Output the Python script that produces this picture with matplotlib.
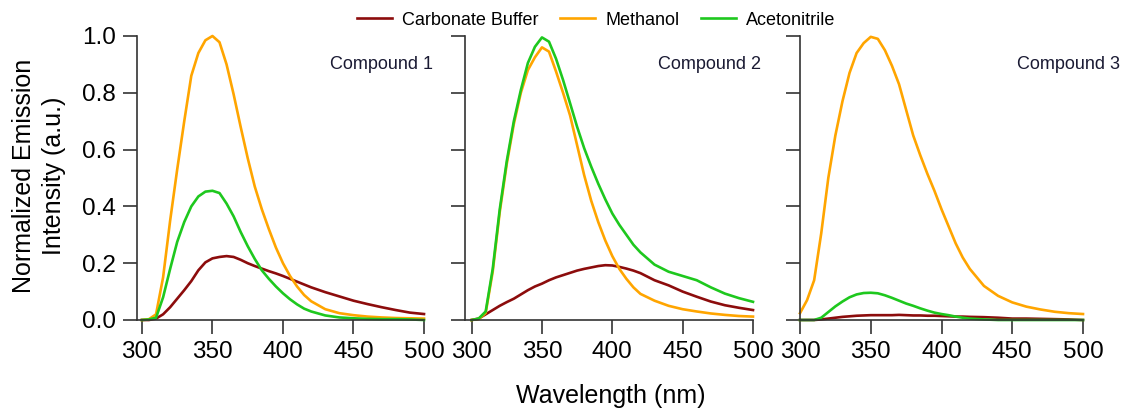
import matplotlib
matplotlib.use("Agg")
import matplotlib.pyplot as plt

plt.rcParams["font.family"] = ["Liberation Sans", "DejaVu Sans"]

wavelength = [300, 305, 310, 315, 320, 325, 330, 335, 340, 345, 350, 355, 360,
              365, 370, 375, 380, 385, 390, 395, 400, 405, 410, 415, 420,
              430, 440, 450, 460, 470, 480, 490, 500]

# Compound 1
c1_carbonate = [0.0, 0.0, 0.005, 0.02, 0.045, 0.075, 0.105, 0.137, 0.175, 0.203, 0.217, 0.222, 0.225,
                0.222, 0.212, 0.2, 0.19, 0.181, 0.172, 0.164, 0.155, 0.145, 0.135, 0.125, 0.115,
                0.098, 0.083, 0.068, 0.056, 0.045, 0.035, 0.026, 0.021]
c1_methanol = [0.0, 0.003, 0.02, 0.15, 0.35, 0.53, 0.70, 0.86, 0.94, 0.985, 1.0, 0.978, 0.9,
               0.795, 0.68, 0.57, 0.47, 0.39, 0.32, 0.255, 0.2, 0.155, 0.118, 0.088, 0.066,
               0.038, 0.024, 0.017, 0.012, 0.009, 0.007, 0.006, 0.005]
c1_acetonitrile = [0.0, 0.002, 0.008, 0.08, 0.18, 0.275, 0.345, 0.4, 0.435, 0.452, 0.455, 0.447, 0.41,
                   0.365, 0.31, 0.26, 0.215, 0.175, 0.145, 0.118, 0.094, 0.073, 0.055, 0.04, 0.03,
                   0.016, 0.009, 0.006, 0.004, 0.003, 0.003, 0.002, 0.0]

# Compound 2
c2_carbonate = [0.0, 0.005, 0.02, 0.035, 0.05, 0.063, 0.075, 0.09, 0.105, 0.118, 0.128, 0.14, 0.15,
                0.158, 0.166, 0.174, 0.18, 0.185, 0.19, 0.193, 0.192, 0.187, 0.181, 0.174, 0.165,
                0.14, 0.122, 0.1, 0.082, 0.065, 0.052, 0.043, 0.035]
c2_methanol = [0.0, 0.003, 0.025, 0.17, 0.38, 0.55, 0.69, 0.80, 0.88, 0.925, 0.96, 0.945, 0.875,
               0.80, 0.72, 0.615, 0.51, 0.42, 0.345, 0.28, 0.225, 0.18, 0.145, 0.115, 0.092,
               0.068, 0.05, 0.038, 0.03, 0.023, 0.018, 0.014, 0.012]
c2_acetonitrile = [0.0, 0.005, 0.03, 0.18, 0.39, 0.56, 0.70, 0.81, 0.905, 0.962, 0.995, 0.98, 0.92,
                   0.845, 0.763, 0.68, 0.605, 0.54, 0.48, 0.425, 0.375, 0.335, 0.30, 0.265, 0.238,
                   0.195, 0.17, 0.155, 0.14, 0.115, 0.093, 0.077, 0.064]

# Compound 3
c3_carbonate = [0.0, 0.0, 0.0, 0.002, 0.005, 0.008, 0.011, 0.013, 0.015, 0.016, 0.017, 0.017, 0.017,
                0.017, 0.018, 0.017, 0.016, 0.016, 0.015, 0.015, 0.014, 0.013, 0.012, 0.012, 0.011,
                0.01, 0.008, 0.005, 0.005, 0.004, 0.003, 0.002, 0.0]
c3_methanol = [0.024, 0.07, 0.14, 0.305, 0.50, 0.65, 0.77, 0.87, 0.94, 0.975, 0.997, 0.99, 0.95,
               0.895, 0.83, 0.74, 0.65, 0.58, 0.515, 0.455, 0.39, 0.33, 0.27, 0.22, 0.18,
               0.12, 0.085, 0.062, 0.047, 0.037, 0.029, 0.024, 0.021]
c3_acetonitrile = [0.0, 0.0, 0.0, 0.008, 0.028, 0.048, 0.065, 0.08, 0.09, 0.095, 0.096, 0.094, 0.087,
                   0.078, 0.068, 0.058, 0.05, 0.041, 0.033, 0.026, 0.021, 0.017, 0.012, 0.008, 0.005,
                   0.002, 0.0, 0.0, 0.0, 0.0, 0.0, 0.0, 0.0]

solvents = ["Carbonate Buffer", "Methanol", "Acetonitrile"]
compounds = ["Compound 1", "Compound 2", "Compound 3"]
panels = [
    (c1_carbonate, c1_methanol, c1_acetonitrile),
    (c2_carbonate, c2_methanol, c2_acetonitrile),
    (c3_carbonate, c3_methanol, c3_acetonitrile),
]
colors = ["#8c0c0c", "#ffa500", "#1ec81e"]

W, H = 1125, 409
fig = plt.figure(figsize=(W / 100, H / 100), dpi=100)

# axes boxes in pixels: (left, right, x-limit start)
boxes = [(137, 424, 296.5), (465, 753, 295.3), (800, 1083, 300.0)]
label_x = [433, 432.5, 453.5]
ax_bottom, ax_top = 320, 36

for i, ((l, r, x0), series) in enumerate(zip(boxes, panels)):
    ax = fig.add_axes([l / W, (H - ax_bottom) / H, (r - l) / W, (ax_bottom - ax_top) / H])
    for ys, c, name in zip(series, colors, solvents):
        ax.plot(wavelength, ys, color=c, lw=1.9, label=name, clip_on=False)
    ax.set_xlim(x0, 500)
    ax.set_ylim(0, 1.0)
    ax.set_xticks([300, 350, 400, 450, 500])
    ax.set_yticks([0.0, 0.2, 0.4, 0.6, 0.8, 1.0])
    for s in ("top", "right"):
        ax.spines[s].set_visible(False)
    for s in ("left", "bottom"):
        ax.spines[s].set_color("#333333")
        ax.spines[s].set_linewidth(1.2)
    ax.tick_params(direction="out", length=10, width=1.2, color="#333333",
                   labelsize=17.5, pad=5)
    if i == 0:
        ax.set_yticklabels(["0.0", "0.2", "0.4", "0.6", "0.8", "1.0"])
    else:
        ax.set_yticklabels([])
    ax.text(label_x[i], 0.9, compounds[i], fontsize=13, color="#1a1a33",
            ha="left", va="center")
    if i == 0:
        handles, labels = ax.get_legend_handles_labels()

fig.legend(handles, labels, loc="center", bbox_to_anchor=(0.53, 0.951), ncol=3,
           frameon=False, fontsize=13, handlelength=1.95, handletextpad=0.55,
           columnspacing=1.2)

fig.text(39 / W, 1 - 176 / H, "Normalized Emission\nIntensity (a.u.)", rotation=90,
         ha="center", va="center", fontsize=18, linespacing=1.3)
fig.text(611 / W, 1 - 396 / H, "Wavelength (nm)", ha="center", va="center", fontsize=18)

fig.savefig("out.png", dpi=100)
